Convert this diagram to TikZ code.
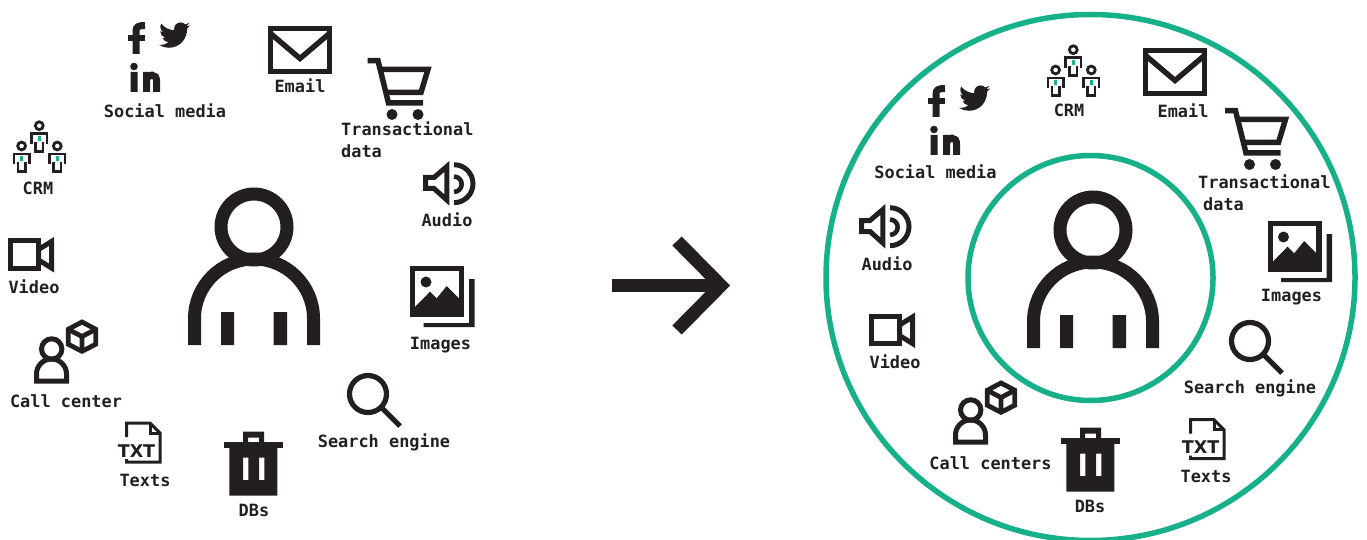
\documentclass[tikz,border=0pt]{standalone}
\usepackage{fontspec}
\setmainfont{DejaVu Sans Mono}
\newfontfamily\txtfont{DejaVu Sans}
\definecolor{ink}{HTML}{231F20}
\definecolor{teal}{HTML}{17B189}
\tikzset{
  x=1pt,y=-1pt,
  lab/.style={anchor=base,inner sep=0pt,text=ink,font=\fontsize{16.9}{21.5}\selectfont\bfseries},
  ring/.style={draw=teal,line width=5.5pt},
  pics/person/.style={code={
    \draw[ink,line width=13pt] (254,227) circle[radius=33pt];
    \draw[ink,line width=13pt] (194.5,345) -- (194.5,318.5) arc[start angle=180,end angle=0,radius=59.5pt] -- (313.5,345);
    \fill[ink] (221,312) rectangle (234,345) (273.5,312) rectangle (287,345);
  }},
  pics/social/.style={code={
    \draw[ink,line width=7pt] (136,54) -- (136,31) .. controls (136,27) and (138,25.5) .. (145,25.5);
    \fill[ink] (128,35) rectangle (145,41);
    \begin{scope}[shift={(159,19.5)},scale=1.3]
    \fill[ink] (23.95,4.57) .. controls (23.07,4.96) and (22.12,5.22) .. (21.13,5.34)
      .. controls (22.14,4.73) and (22.92,3.77) .. (23.29,2.62)
      .. controls (22.34,3.18) and (21.29,3.58) .. (20.17,3.80)
      .. controls (19.27,2.84) and (18.0,2.24) .. (16.58,2.24)
      .. controls (13.86,2.24) and (11.66,4.44) .. (11.66,7.16)
      .. controls (11.66,7.55) and (11.7,7.92) .. (11.79,8.28)
      .. controls (7.69,8.09) and (4.07,6.13) .. (1.64,3.16)
      .. controls (1.21,3.88) and (.97,4.72) .. (.97,5.64)
      .. controls (.97,7.35) and (1.84,8.85) .. (3.16,9.73)
      .. controls (2.35,9.71) and (1.59,9.48) .. (.93,9.11)
      -- (.93,9.17)
      .. controls (.93,11.56) and (2.62,13.55) .. (4.88,14.0)
      .. controls (4.46,14.11) and (4.03,14.17) .. (3.58,14.17)
      .. controls (3.27,14.17) and (2.97,14.14) .. (2.67,14.09)
      .. controls (3.3,16.04) and (5.11,17.46) .. (7.27,17.5)
      .. controls (5.59,18.82) and (3.46,19.61) .. (1.17,19.61)
      .. controls (.78,19.61) and (.39,19.58) .. (0,19.54)
      .. controls (2.19,20.93) and (4.77,21.75) .. (7.56,21.75)
      .. controls (16.61,21.75) and (21.56,14.25) .. (21.56,7.76)
      .. controls (21.56,7.55) and (21.56,7.34) .. (21.54,7.13)
      .. controls (22.5,6.44) and (23.34,5.57) .. (24,4.58) -- cycle;
    \end{scope}
    \fill[ink] (134,66.5) circle[radius=3.8pt] (130.5,72) rectangle (137.5,92);
    \draw[ink,line width=7pt] (146.5,92) -- (146.5,72) (146.5,82) .. controls (146.5,77) and (149,75.2) .. (152,75.2) .. controls (155,75.2) and (156.6,77) .. (156.6,82) -- (156.6,92);
  }},
  pics/email/.style={code={
    \draw[ink,line width=5.4pt] (270.7,28.7) rectangle (329.3,71.3);
    \draw[ink,line width=5.4pt] (270,33) -- (300,58.5) -- (330,33);
  }},
  pics/miniperson/.style={code={
    \draw[ink,line width=2.8pt] (0,0) circle[radius=3.9pt];
    \draw[ink,line width=2.6pt] (-7.6,18) -- (-7.6,8) -- (7.6,8) -- (7.6,18);
    \draw[ink,line width=2.6pt] (-3.6,16) -- (-3.6,25.8) -- (3.6,25.8) -- (3.6,16);
    \fill[teal] (-1.7,10.3) rectangle (1.7,15.2);
  }},
  pics/crm/.style={code={
    \pic at (39.3,125.7) {miniperson};
    \pic at (21.6,146) {miniperson};
    \pic at (57.3,146) {miniperson};
  }},
  pics/cart/.style={code={
    \draw[ink,line width=5.5pt] (367.5,60.7) -- (378,60.7) -- (388.5,103) -- (423,103);
    \draw[ink,line width=5.5pt] (378,69.3) -- (428,69.3) -- (421,92.5) -- (384,92.5);
    \fill[ink] (392,114.5) circle[radius=5.5pt] (418,114.5) circle[radius=5.5pt];
  }},
  pics/audio/.style={code={
    \draw[ink,line width=5pt,miter limit=3] (425.7,177.5) -- (434,177.5) -- (446.8,166.5) -- (446.8,200) -- (434,188.5) -- (425.7,188.5) -- cycle;
    \draw[ink,line width=5pt] (454,164.7) arc[start angle=90,end angle=-90,radius=19pt];
    \draw[ink,line width=4.6pt] (454,176.5) arc[start angle=90,end angle=-90,radius=7.7pt];
  }},
  pics/images/.style={code={
    \draw[ink,line width=5.4pt] (412.7,268.7) rectangle (461.3,314.7);
    \fill[ink] (426,282) circle[radius=5.5pt];
    \fill[ink] (415,307) -- (430,291.7) -- (436.7,298.3) -- (446.7,286) -- (459,298.5) -- (459,316) -- (415,316) -- cycle;
    \fill[ink] (469,279) -- (474.5,279) -- (474.5,327) -- (423.5,327) -- (423.5,323) -- (469,323) -- cycle;
  }},
  pics/search/.style={code={
    \draw[ink,line width=5.2pt] (368,394) circle[radius=18.5pt];
    \draw[ink,line width=5.2pt] (381.5,407.5) -- (400,426);
  }},
  pics/dbs/.style={code={
    \fill[ink,even odd rule] (243,431.7) rectangle (264,442.5) (248,437.7) rectangle (259,442.5);
    \fill[ink] (224,442.3) rectangle (283,447.8);
    \fill[ink,even odd rule] (229.3,447.5) rectangle (277.3,495.7) (243,457.7) rectangle (248.3,480) (259,457.7) rectangle (264.3,480);
  }},
  pics/texts/.style={code={
    \draw[ink,line width=3pt] (126.5,437) -- (126.5,423) -- (150,423) -- (160,433) -- (160,462) -- (126.5,462) -- (126.5,459);
    \draw[ink,line width=3pt] (150,423) -- (150,433) -- (160,433);
    \node[anchor=base,inner sep=0pt,text=ink,font=\txtfont\bfseries\fontsize{17.5}{17.5}\selectfont] (txtmark) at (136.5,457) {TXT};
  }},
  pics/callperson/.style={code={
    \draw[ink,line width=5pt] (51.7,349) circle[radius=10.2pt];
    \draw[ink,line width=5pt] (36.5,381) -- (36.5,374) arc[start angle=180,end angle=0,radius=15pt] -- (66.5,381) -- cycle;
    \draw[ink,line width=4.8pt,line join=miter] (82,322) -- (95.8,329.3) -- (95.8,344.2) -- (82,351.3) -- (68.2,344.2) -- (68.2,329.3) -- cycle;
    \draw[ink,line width=4.8pt] (68.2,329.3) -- (82,336.5) -- (95.8,329.3) (82,336.5) -- (82,351.3);
  }},
  pics/video/.style={code={
    \draw[ink,line width=5pt] (10.8,240.8) rectangle (38,268.2);
    \draw[ink,line width=5pt,miter limit=3] (38.5,249.5) -- (51.5,241.5) -- (51.5,268) -- (38.5,260) -- cycle;
  }},
}
\begin{document}
\begin{tikzpicture}
\useasboundingbox (0,0) rectangle (1367,540);
\clip (0,0) rectangle (1367,540);
% left
\pic (lperson) at (0,0) {person};
\pic (lsocial) at (0,0) {social};
\pic (lemail) at (0,0) {email};
\pic (lcrm) at (0,0) {crm};
\pic (lcart) at (0,0) {cart};
\pic (laudio) at (0,0) {audio};
\pic (limages) at (0,0) {images};
\pic (lsearch) at (0,0) {search};
\pic (ldbs) at (0,0) {dbs};
\pic (ltexts) at (0,0) {texts};
\pic (lcall) at (0,0) {callperson};
\pic (lvideo) at (0,0) {video};
\node[lab] (l1) at (165,117.5) {Social media};
\node[lab] (l2) at (300,93) {Email};
\node[lab] (l3) at (38,194.5) {CRM};
\node[lab,anchor=north west,align=left] (l4) at (341,122) {Transactional\\data};
\node[lab] (l5) at (447,226) {Audio};
\node[lab] (l6) at (440.5,349) {Images};
\node[lab] (l7) at (384,447) {Search engine};
\node[lab] (l8) at (254,516) {DBs};
\node[lab] (l9) at (145,486) {Texts};
\node[lab] (l10) at (66,407) {Call center};
\node[lab] (l11) at (34,293) {Video};
% arrow
\draw[ink,line width=13pt] (612,285) -- (722,285);
\draw[ink,line width=13pt] (677,241) -- (721,285.5) -- (677,330);
% right
\draw[ring] (1090.5,277.5) ellipse[x radius=264.5pt,y radius=263pt];
\draw[ring] (1090.5,278) circle[radius=122.5pt];
\pic (rperson) at (839,3) {person};
\pic (rsocial) at (800,63) {social};
\pic (remail) at (875,22) {email};
\pic (rcrm) at (1034,-76) {crm};
\pic (rcart) at (857.5,50) {cart};
\pic (raudio) at (436,43) {audio};
\pic (rimages) at (857.5,-45) {images};
\pic (rsearch) at (882,-53) {search};
\pic (rdbs) at (837,-4) {dbs};
\pic (rtexts) at (1064,-3.3) {texts};
\pic (rcall) at (919,61) {callperson};
\pic (rvideo) at (861,75.5) {video};
\node[lab] (r1) at (935.5,178.5) {Social media};
\node[lab] (r2) at (1183,118) {Email};
\node[lab] (r3) at (1069,116.5) {CRM};
\node[lab,anchor=north west,align=left] (r4) at (1198,175) {Transactional\\\hspace*{5pt}data};
\node[lab] (r5) at (887,270) {Audio};
\node[lab] (r6) at (1291.5,301) {Images};
\node[lab] (r7) at (1250,393) {Search engine};
\node[lab] (r8) at (1090,512) {DBs};
\node[lab] (r9) at (1206,482) {Texts};
\node[lab] (r10) at (990.5,469) {Call centers};
\node[lab] (r11) at (895,368) {Video};
\end{tikzpicture}
\end{document}
